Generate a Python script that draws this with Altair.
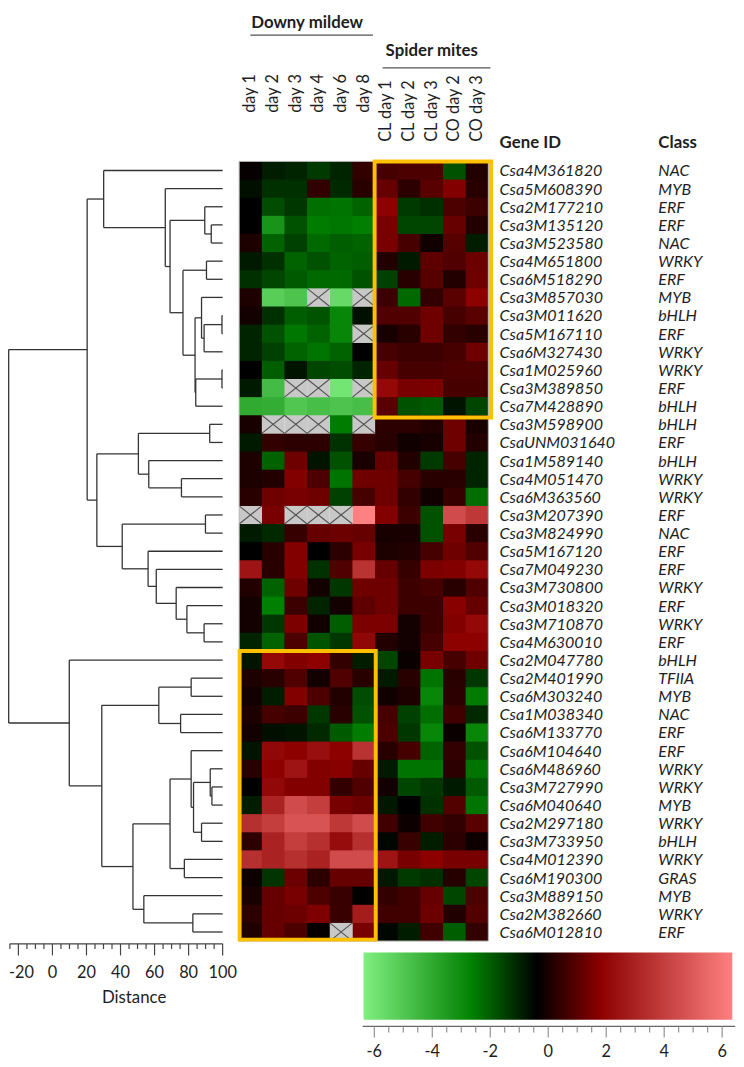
import altair as alt
import pandas as pd

# ---------------- data ----------------
conditions = ["day 1", "day 2", "day 3", "day 4", "day 6", "day 8",
              "CL day 1", "CL day 2", "CL day 3", "CO day 2", "CO day 3"]
gene_ids = ["Csa4M361820", "Csa5M608390", "Csa2M177210", "Csa3M135120", "Csa3M523580",
            "Csa4M651800", "Csa6M518290", "Csa3M857030", "Csa3M011620", "Csa5M167110",
            "Csa6M327430", "Csa1M025960", "Csa3M389850", "Csa7M428890", "Csa3M598900",
            "CsaUNM031640", "Csa1M589140", "Csa4M051470", "Csa6M363560", "Csa3M207390",
            "Csa3M824990", "Csa5M167120", "Csa7M049230", "Csa3M730800", "Csa3M018320",
            "Csa3M710870", "Csa4M630010", "Csa2M047780", "Csa2M401990", "Csa6M303240",
            "Csa1M038340", "Csa6M133770", "Csa6M104640", "Csa6M486960", "Csa3M727990",
            "Csa6M040640", "Csa2M297180", "Csa3M733950", "Csa4M012390", "Csa6M190300",
            "Csa3M889150", "Csa2M382660", "Csa6M012810"]
gene_class = ["NAC", "MYB", "ERF", "ERF", "NAC", "WRKY", "ERF", "MYB", "bHLH", "ERF",
              "WRKY", "WRKY", "ERF", "bHLH", "bHLH", "ERF", "bHLH", "WRKY", "WRKY", "ERF",
              "NAC", "ERF", "ERF", "WRKY", "ERF", "WRKY", "ERF", "bHLH", "TFIIA", "MYB",
              "NAC", "ERF", "ERF", "WRKY", "WRKY", "MYB", "WRKY", "bHLH", "WRKY", "GRAS",
              "MYB", "WRKY", "ERF"]

NA = None  # crossed grey cell (no value)
dm_day1 = [-0.3, -0.65, -0.4, -0.4, 0.05, -0.85, -1.2, 0.05, -0.1, -1.0, -1.0, -0.4, -0.85, -4.0, 0.0,
           -0.85, 0.05, 0.05, 0.25, NA, -0.85, -0.4, 2.5, 0.15, -0.1, -0.1, -1.0, -0.75, 0.05, -0.1,
           0.05, -0.1, -0.75, 0.25, -0.4, -0.9, 3.5, 0.3, 3.5, -0.2, 0.0, 0.3, 0.1]
dm_day2 = [-0.9, -1.2, -1.7, -3.3, -2.1, -1.2, -1.6, -5.2, -1.2, -1.8, -1.5, -2.0, -4.6, -4.1, NA,
           0.4, -2.1, 0.15, 1.35, 1.5, -1.1, 0.25, 0.25, -2.1, -2.6, -1.35, -2.1, 2.1, 0.25, -0.9,
           0.7, -0.65, 2.05, 1.85, 2.05, 3.0, 4.0, 3.0, 3.0, -1.3, 1.2, 1.2, 1.2]
dm_day3 = [-1.0, -1.2, -1.35, -1.8, -1.5, -2.1, -1.95, -4.9, -2.0, -2.45, -2.1, -0.75, NA, -5.0, NA,
           0.3, 1.35, 1.65, 1.5, NA, 0.45, 1.65, 1.65, 1.35, 0.55, 1.55, 0.8, 1.65, 0.85, 1.65,
           0.55, -0.75, 1.85, 2.5, 1.65, 4.5, 4.8, 4.0, 3.5, 1.3, 1.5, 1.3, 0.8]
dm_day4 = [-1.4, 0.4, -2.3, -2.55, -2.2, -1.8, -2.2, NA, -1.85, -2.1, -2.4, -1.6, NA, -4.7, NA,
           0.3, -0.75, 0.8, 1.35, NA, 1.2, -0.4, -1.25, -0.1, -1.0, -0.15, -1.85, 1.85, -0.1, 0.8,
           -1.35, -1.1, 2.3, 1.65, 1.65, 4.0, 4.8, 3.5, 3.0, 0.3, 0.8, 1.6, -0.3]
dm_day6 = [-1.0, -1.1, -2.4, -2.45, -2.0, -2.1, -2.2, -5.6, -2.8, -2.8, -2.1, -1.7, -6.0, -4.9, -2.55,
           -1.25, -1.8, -2.4, -1.5, NA, 1.3, 0.3, 0.85, -1.35, -0.1, -2.0, -1.35, 0.4, 0.85, 0.15,
           0.25, -1.95, 1.85, 1.75, 0.4, 1.5, 3.8, 2.2, 4.5, 1.2, 0.5, 0.5, NA]
dm_day8 = [0.4, 0.25, -2.1, -2.6, -2.1, -2.0, -1.8, NA, -0.65, NA, -0.4, -1.0, NA, -4.7, NA,
           0.45, 0.0, 1.35, 0.7, 6.4, 1.2, 1.5, 3.6, 1.35, 1.1, 1.55, 2.0, -0.9, 0.25, -1.7,
           -1.8, -2.55, 3.6, 1.2, 0.85, 1.3, 4.5, 3.5, 4.5, 1.2, -0.4, 2.8, 1.5]
sm_cl_day1 = [0.7, 1.2, 1.85, 1.5, 1.5, 0.15, -1.5, 0.55, 0.85, 0.0, 0.7, 1.2, 2.1, 1.0, 0.3,
              0.25, 1.2, 1.35, 1.35, 1.65, 0.0, 0.05, 1.2, 1.35, 1.35, 1.55, 0.15, -1.6, -0.85, -0.15,
              0.7, 0.8, 0.25, -0.85, -0.1, -0.8, 0.6, -0.5, 2.5, -0.8, 0.4, 0.6, -0.5]
sm_cl_day2 = [0.8, 0.3, -1.4, -1.6, 0.7, -0.85, 0.25, -2.2, 0.85, 0.25, 0.55, 0.7, 1.5, -1.8, 0.3,
              -0.15, 0.15, 0.7, 0.4, 0.55, 0.0, 0.15, 0.45, 0.55, 0.55, -0.1, -0.1, -0.25, 0.25, 0.05,
              -1.5, -1.35, 0.7, -2.4, -1.6, -0.4, -0.2, 0.5, 1.5, -1.4, 0.6, 0.6, -0.9]
sm_cl_day3 = [0.8, 1.0, -1.2, -1.6, -0.15, 1.1, 0.95, 0.4, 1.35, 1.35, 0.55, 0.7, 1.55, -1.95, 0.15,
              0.0, -1.4, 0.25, -0.15, -1.8, -1.8, 0.7, 1.55, 0.7, 0.55, 0.55, 0.7, 1.5, -2.4, -2.8,
              -2.3, -2.8, -2.1, -2.4, -1.35, -1.2, 0.6, -0.9, 1.8, -1.2, 1.2, 1.3, 0.6]
sm_co_day2 = [-1.8, 1.65, 0.8, 1.2, 0.95, 0.85, 0.15, 1.0, 0.7, 0.4, 0.7, 0.8, 0.7, -0.75, 1.35,
              1.35, 0.7, 0.25, 0.45, 4.5, 1.5, 1.35, 1.65, 0.25, 1.75, 1.65, 1.85, 0.7, 0.25, 0.3,
              0.6, -0.25, 0.4, 0.3, -0.85, 0.9, 0.4, 0.3, 1.5, 0.2, -1.6, 0.1, -2.0]
sm_co_day3 = [0.15, 0.25, 0.55, 0.15, -0.9, 1.3, 1.35, 1.85, 1.0, 0.25, 1.35, 0.8, 0.7, -1.6, 0.0,
              0.15, -1.0, -1.0, -2.3, 3.8, 0.25, 0.85, 2.1, 0.85, 1.2, 2.1, 1.85, 1.35, -1.35, -2.55,
              -1.1, -2.8, -1.8, -2.4, -1.95, -2.4, 1.0, -0.2, 1.5, -1.6, 0.8, 0.9, 0.4]
expr_columns = [dm_day1, dm_day2, dm_day3, dm_day4, dm_day6, dm_day8,
                sm_cl_day1, sm_cl_day2, sm_cl_day3, sm_co_day2, sm_co_day3]
assert all(len(c) == len(gene_ids) for c in expr_columns)

# dendrogram: (merge distance, left, right); integers are row indices of the leaves
LEAF_DIST = 100
dendrogram = (-25.7,
    (20.4,
        (30.1, 0, (66.3, 1, (69.1, (89.5, 2, (93.3, 3, 4)),
                                 (76.7, (90.5, 5, 6),
                                        (83.8, (87.6, 7, (89.1, (99.6, 8, 9), 10)),
                                               (84.2, (99.6, 11, 12), 13)))))),
        (26.1, (50.5, (92.4, 14, 15), (56.6, 16, (75.8, 17, 18))),
               (41.0, (89.9, 19, 20),
                      (56.2, 21, (61.0, 22, (72.7, 23, (79.0, 24, (89.1, 25, 26)))))))),
    (9.9, 27,
        (29.0, (62.5, (81.5, 28, 29), (75.3, 30, 31)),
               (47.3, (69.1, (81.5, 32, (82.9, (92.7, 33, (93.7, 34, 35)), (87.6, 36, 37))),
                             (77.5, 38, 39)),
                      (53.7, 40, (82.5, 41, 42))))))

dist_ticks = list(range(-25, 101, 5))
dist_labels = [-20, 0, 20, 40, 60, 80, 100]
legend_ticks = [v / 2 for v in range(-12, 13)]
legend_labels = [-6, -4, -2, 0, 2, 4, 6]
color_values = [-6.37, -2.6, -0.4, 1.8, 6.35]
color_range = ["#80f080", "#008000", "#000000", "#8c0000", "#ff8080"]

# ---------------- layout ----------------
W, H = 736, 1059
TOP, RH = 149.3, 18.33      # heatmap top (plot px) and row height
LEFT, CW = 233.7, 22.9      # heatmap left (plot px) and column width
FONT = "Lato"
INK = "#1e1e1e"


def ry(page_y):
    return (page_y - 8 - TOP) / RH


def cx(page_x):
    return (page_x - 8 - LEFT) / CW


ysc = alt.Scale(domain=[ry(8), ry(8 + H)], reverse=True, nice=False, zero=False)
colsc = alt.Scale(domain=[cx(8), cx(8 + W)], nice=False, zero=False)
D0, P0, P1 = -25.7, 8.7, 225.0
dpx = (P1 - P0) / (LEAF_DIST - D0)
distsc = alt.Scale(domain=[D0 - (P0 - 8) / dpx, D0 + (8 + W - P0) / dpx], nice=False, zero=False)
lpx = (730 - 378.3) / 12
legsc = alt.Scale(domain=[-6 - (378.3 - 8) / lpx, -6 + (8 + W - 378.3) / lpx], nice=False, zero=False)
colorsc = alt.Scale(domain=color_values, range=color_range, interpolate="rgb", clamp=True)


def X(f, sc):
    return alt.X(f + ":Q", scale=sc, axis=None)


def Y(f):
    return alt.Y(f + ":Q", scale=ysc, axis=None)


layers = []

# ---- dendrogram ----
segs = []


def walk(node):
    if isinstance(node, int):
        return LEAF_DIST, node + 0.5
    d, left, right = node
    dl, yl = walk(left)
    dr, yr = walk(right)
    segs.append(dict(x=d, x2=d, y=yl, y2=yr))
    segs.append(dict(x=d, x2=dl, y=yl, y2=yl))
    segs.append(dict(x=d, x2=dr, y=yr, y2=yr))
    return d, (yl + yr) / 2


walk(dendrogram)
layers.append(alt.Chart(pd.DataFrame(segs)).mark_rule(color="#333333", strokeWidth=1.3).encode(
    x=X("x", distsc), x2="x2", y=Y("y"), y2="y2"))

# ---- distance axis ----
AX_Y = ry(948.3)
tk = pd.DataFrame({"x": dist_ticks})
tk["y"] = AX_Y
tk["y2"] = [ry(960) if v in dist_labels else ry(953.5) for v in dist_ticks]
layers.append(alt.Chart(pd.DataFrame({"x": [dist_ticks[0]], "x2": [dist_ticks[-1]], "y": [AX_Y]}))
              .mark_rule(color="#444444", strokeWidth=1.2).encode(x=X("x", distsc), x2="x2", y=Y("y")))
layers.append(alt.Chart(tk).mark_rule(color="#444444", strokeWidth=1.2).encode(
    x=X("x", distsc), y=Y("y"), y2="y2"))
dl = pd.DataFrame({"x": dist_labels, "t": [str(v) for v in dist_labels]})
dl["y"] = ry(978)
layers.append(alt.Chart(dl.iloc[1:]).mark_text(font=FONT, fontSize=16.5, color=INK, baseline="middle").encode(
    x=X("x", distsc), y=Y("y"), text="t:N"))
layers.append(alt.Chart(dl.iloc[:1]).mark_text(font=FONT, fontSize=16.5, color=INK, baseline="middle",
                                               dx=3).encode(
    x=X("x", distsc), y=Y("y"), text="t:N"))
layers.append(alt.Chart(pd.DataFrame({"x": [48], "y": [ry(1003)], "t": ["Distance"]}))
              .mark_text(font=FONT, fontSize=17, color=INK, baseline="middle")
              .encode(x=X("x", distsc), y=Y("y"), text="t:N"))

# ---- heatmap ----
cells, missing = [], []
nr, nc = len(gene_ids), len(conditions)
for c, col in enumerate(expr_columns):
    for r, v in enumerate(col):
        rec = dict(c0=c, c1=c + (1.04 if c < nc - 1 else 1), r0=r, r1=r + (1.06 if r < nr - 1 else 1),
                   gene=gene_ids[r], cond=conditions[c])
        if v is None:
            missing.append(rec)
        else:
            rec["v"] = v
            cells.append(rec)
layers.append(alt.Chart(pd.DataFrame(cells)).mark_rect().encode(
    x=X("c0", colsc), x2="c1", y=Y("r0"), y2="r1",
    color=alt.Color("v:Q", scale=colorsc, legend=None)))
mdf = pd.DataFrame(missing)
mdf["c1"] = mdf["c0"] + 1
mdf["r1"] = mdf["r0"] + 1
layers.append(alt.Chart(mdf).mark_rect(color="#c8c8c8").encode(
    x=X("c0", colsc), x2="c1", y=Y("r0"), y2="r1"))
layers.append(alt.Chart(mdf).mark_rule(color="#505050", strokeWidth=1.1).encode(
    x=X("c0", colsc), x2="c1", y=Y("r0"), y2="r1"))
layers.append(alt.Chart(mdf).mark_rule(color="#505050", strokeWidth=1.1).encode(
    x=X("c1", colsc), x2="c0", y=Y("r0"), y2="r1"))
layers.append(alt.Chart(pd.DataFrame({"x": [0], "x2": [nc], "y": [0], "y2": [nr]}))
              .mark_rect(fillOpacity=0, stroke="#b4b4b4", strokeWidth=1)
              .encode(x=X("x", colsc), x2="x2", y=Y("y"), y2="y2"))

# ---- highlight boxes ----
boxes = pd.DataFrame({"x": [5.98, 0.02], "x2": [11.12, 6.03], "y": [0.0, 27.0], "y2": [14.12, 42.92]})
layers.append(alt.Chart(boxes).mark_rect(fillOpacity=0, stroke="#ffc000", strokeWidth=4).encode(
    x=X("x", colsc), x2="x2", y=Y("y"), y2="y2"))

# ---- gene labels ----
gl = pd.DataFrame({"y": [r + 0.5 for r in range(nr)], "g": gene_ids, "k": gene_class})
gl["xg"] = cx(505)
gl["xk"] = cx(665.5)
layers.append(alt.Chart(gl).mark_text(font=FONT, fontSize=16.2, fontStyle="italic", color=INK,
                                      align="left", baseline="middle", dy=1)
              .encode(x=X("xg", colsc), y=Y("y"), text="g:N"))
layers.append(alt.Chart(gl).mark_text(font=FONT, fontSize=16.2, fontStyle="italic", color=INK,
                                      align="left", baseline="middle", dy=1)
              .encode(x=X("xk", colsc), y=Y("y"), text="k:N"))
layers.append(alt.Chart(pd.DataFrame({"x": [cx(505), cx(665.5)], "y": [ry(139)] * 2, "t": ["Gene ID", "Class"]}))
              .mark_text(font=FONT, fontSize=17, fontWeight="bold", color=INK, align="left", baseline="middle")
              .encode(x=X("x", colsc), y=Y("y"), text="t:N"))

# ---- column labels ----
cl = pd.DataFrame({"x": [c + 0.5 for c in range(nc)], "t": conditions})
cl_dm = cl.iloc[:6].copy()
cl_dm["y"] = ry(69)
cl_sm = cl.iloc[6:].copy()
cl_sm["y"] = ry(137.5)
layers.append(alt.Chart(cl_dm).mark_text(font=FONT, fontSize=16.5, color=INK, angle=270,
                                         align="right", baseline="middle")
              .encode(x=X("x", colsc), y=Y("y"), text="t:N"))
layers.append(alt.Chart(cl_sm).mark_text(font=FONT, fontSize=16.5, color=INK, angle=270,
                                         align="left", baseline="middle")
              .encode(x=X("x", colsc), y=Y("y"), text="t:N"))

# ---- group headers ----
gh = pd.DataFrame({"x": [3.0, 8.5], "y": [ry(9), ry(38)], "t": ["Downy mildew", "Spider mites"]})
layers.append(alt.Chart(gh).mark_text(font=FONT, fontSize=17, fontWeight="bold", color=INK, baseline="top")
              .encode(x=X("x", colsc), y=Y("y"), text="t:N"))
ul = pd.DataFrame({"x": [cx(253), cx(386.7)], "x2": [cx(377), cx(495.7)], "y": [ry(29.5), ry(62.7)]})
layers.append(alt.Chart(ul).mark_rule(color="#555555", strokeWidth=1.3)
              .encode(x=X("x", colsc), x2="x2", y=Y("y")))

# ---- colour key ----
lo, hi = color_values[0], color_values[-1]
grad = alt.Gradient(gradient="linear", x1=0, x2=1, y1=0, y2=0,
                    stops=[alt.GradientStop(offset=(v - lo) / (hi - lo), color=c)
                           for v, c in zip(color_values, color_range)])
layers.append(alt.Chart(pd.DataFrame({"x": [lo], "x2": [hi], "y": [ry(957)], "y2": [ry(1025)]}))
              .mark_rect(color=grad).encode(x=X("x", legsc), x2="x2", y=Y("y"), y2="y2"))
LAX = ry(1031.7)
layers.append(alt.Chart(pd.DataFrame({"x": [-6.4], "x2": [6.45], "y": [LAX]}))
              .mark_rule(color="#666666", strokeWidth=1.2).encode(x=X("x", legsc), x2="x2", y=Y("y")))
lt = pd.DataFrame({"x": legend_ticks})
lt["y"] = LAX
lt["y2"] = [ry(1043) if v in legend_labels else ry(1038) for v in legend_ticks]
layers.append(alt.Chart(lt).mark_rule(color="#888888", strokeWidth=1.1)
              .encode(x=X("x", legsc), y=Y("y"), y2="y2"))
ll = pd.DataFrame({"x": legend_labels, "t": [str(v) for v in legend_labels]})
ll["y"] = ry(1058)
layers.append(alt.Chart(ll).mark_text(font=FONT, fontSize=16.5, color=INK, baseline="middle")
              .encode(x=X("x", legsc), y=Y("y"), text="t:N"))

chart = (alt.layer(*layers)
         .resolve_scale(x="independent")
         .properties(width=W, height=H, padding=0, autosize=alt.AutoSizeParams(type="none"))
         .configure_view(stroke=None))

chart.save("out.html", embed_options={"renderer": "svg", "actions": False})
